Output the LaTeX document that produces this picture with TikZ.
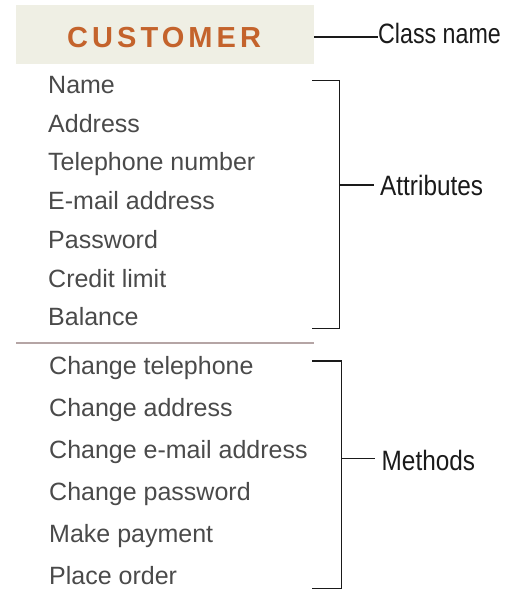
\documentclass[tikz,border=0pt]{standalone}
\usepackage{fontspec}
\setmainfont{Liberation Sans}
\newfontfamily\narrowfont{Liberation Sans}[FakeStretch=0.87]
\newfontfamily\tightfont{Liberation Sans}[FakeStretch=0.83]
\newfontfamily\headfont{Liberation Sans}[LetterSpace=14]
\definecolor{headfill}{HTML}{EFEFE4}
\definecolor{headtext}{HTML}{C4632C}
\definecolor{itemtext}{HTML}{4A4A4A}
\definecolor{rulecol}{HTML}{B5A5A5}
\definecolor{inkcol}{HTML}{1A1A1A}
\begin{document}
\begin{tikzpicture}[x=1pt,y=-1pt,
  item/.style={anchor=base west,inner sep=0pt,text=itemtext,
    font=\fontsize{25}{28}\selectfont},
  callout/.style={anchor=base west,inner sep=0pt,text=inkcol,
    font=\narrowfont\fontsize{28}{32}\selectfont},
  bracketline/.style={draw=inkcol,line width=1.4pt},
  leader/.style={draw=inkcol,line width=1.2pt}]
\useasboundingbox (0,0) rectangle (506,589);

% class name compartment
\fill[headfill] (16,5) rectangle (314,64);
\node[anchor=base west,inner sep=0pt,text=headtext,
  font=\headfont\bfseries\fontsize{29}{32}\selectfont] (cls) at (67,47) {CUSTOMER};
\coordinate (clsedge) at (314,37);
\node[callout,font=\tightfont\fontsize{28}{32}\selectfont] (clslabel) at (378,43.5) {Class name};
\draw[leader] (clsedge) -- (clslabel.west |- clsedge);

% attributes
\foreach \t [count=\i from 0] in {Name,Address,Telephone number,E-mail address,Password,Credit limit,Balance}
  \node[item] (a\i) at (48,93.5+38.7*\i) {\t};

% separator between attributes and methods
\draw[rulecol,line width=1.2pt] (16,343) -- (314,343);

% methods
\foreach \t [count=\i from 0] in {Change telephone,Change address,Change e-mail address,Change password,Make payment,Place order}
  \node[item] (m\i) at (49,374+42*\i) {\t};

% bracket for the attributes
\coordinate (at1) at (312,80.5);
\coordinate (at2) at (339.5,80.5);
\coordinate (ab1) at (312,328.5);
\coordinate (ab2) at (339.5,328.5);
\coordinate (amid) at (339.5,185);
\node[callout] (attlabel) at (380,195) {Attributes};
\draw[bracketline] (at1) -- (at2) -- (ab2) -- (ab1);
\draw[leader] (amid) -- ([xshift=-6pt]attlabel.west |- amid);

% bracket for the methods
\coordinate (mt1) at (312,361);
\coordinate (mt2) at (341.5,361);
\coordinate (mb1) at (312,588.3);
\coordinate (mb2) at (341.5,588.3);
\coordinate (mmid) at (341.5,458.5);
\node[callout] (methlabel) at (381.5,470) {Methods};
\draw[bracketline] (mt1) -- (mt2) -- (mb2) -- (mb1);
\draw[leader] (mmid) -- ([xshift=-7pt]methlabel.west |- mmid);
\end{tikzpicture}
\end{document}
